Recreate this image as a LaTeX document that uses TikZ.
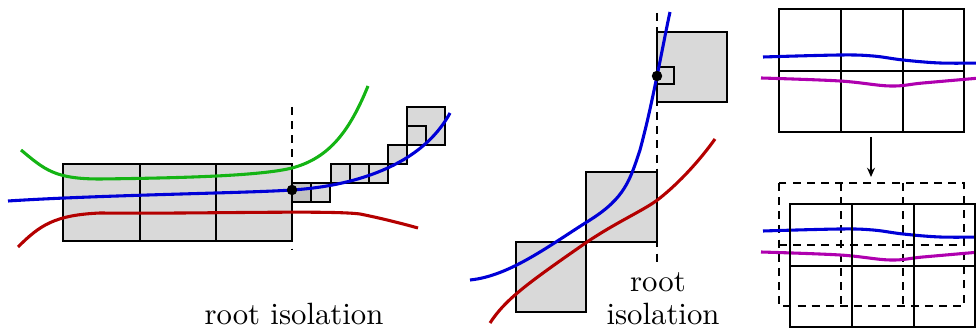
\documentclass[tikz,border=0pt]{standalone}
\usetikzlibrary{arrows.meta}
\definecolor{curvegreen}{RGB}{20,180,20}
\definecolor{curveblue}{RGB}{0,0,215}
\definecolor{curvered}{RGB}{180,0,0}
\definecolor{curvemagenta}{RGB}{175,0,175}
\begin{document}
\begin{tikzpicture}[x=0.325pt,y=-0.325pt,
  box/.style={draw=black,fill=black!15,line width=0.65pt},
  gridline/.style={draw=black,line width=0.65pt},
  guide/.style={line width=0.5pt,dash pattern=on 2.6pt off 2pt},
  curve/.style={line width=1pt}]
\useasboundingbox (0,0) rectangle (976,334);

% --- Panel 1: subdivision along the curve ---
\begin{scope}
\draw[guide] (292,107) -- (292,250);
\filldraw[box] (63,164) rectangle (292,241);
\draw[gridline] (140,164) -- (140,241);
\draw[gridline] (216,164) -- (216,241);

% small boxes following the blue curve
\filldraw[box,fill=black!24] (292,183) rectangle (311,202);
\filldraw[box] (311,183) rectangle (330,202);
\foreach \x in {331,350,369}
  \filldraw[box] (\x,164) rectangle +(19,19);
\filldraw[box] (388,145) rectangle (407,164);
\filldraw[box] (407,107) rectangle (445,145);
\draw[gridline] (407,126) rectangle (426,145);

\draw[curve,curvegreen] (21,150) .. controls (45,170) and (55,179) .. (100,179)
  .. controls (180,178) and (260,176) .. (292,168)
  .. controls (330,158) and (350,130) .. (368,86);
\draw[curve,curveblue] (8,201) .. controls (100,195) and (250,193) .. (292,190)
  .. controls (340,187) and (418,172) .. (450,113);
\draw[curve,curvered] (18,247) .. controls (40,225) and (55,215) .. (100,213)
  .. controls (200,214) and (330,210) .. (360,214)
  .. controls (380,218) and (400,223) .. (418,228);

\fill (292,190) circle (1.7pt);
\node[anchor=base] (lbl1) at (294,325) {root isolation};
\end{scope}

% --- Panel 2: boxes along a steep curve ---
\begin{scope}
\draw[guide] (657,13) -- (657,267);
\filldraw[box] (657,32) rectangle (727,102);
\draw[gridline] (657,67) rectangle (674,84);
\filldraw[box] (586,172) rectangle (657,242);
\filldraw[box] (516,242) rectangle (586,312);

\draw[curve,curveblue] (470,280) .. controls (510,276) and (550,245) .. (590,220)
  .. controls (625,198) and (630,180) .. (640,150)
  .. controls (648,120) and (652,100) .. (657,76)
  .. controls (662,52) and (666,30) .. (670,12);
\draw[curve,curvered] (490,323) .. controls (505,300) and (525,285) .. (587,242)
  .. controls (620,220) and (645,210) .. (660,198)
  .. controls (680,182) and (700,160) .. (715,139);

\fill (657,76) circle (1.7pt);
\node[anchor=base] (lbl2a) at (658,292) {root};
\node[anchor=base] (lbl2b) at (663,325) {isolation};
\end{scope}

% --- Panel 3: shifted grid ---
\begin{scope}
\draw[gridline] (779,9) rectangle (964,132);
\draw[gridline] (841,9) -- (841,132);
\draw[gridline] (903,9) -- (903,132);
\draw[gridline] (779,71) -- (964,71);
\draw[curve,curveblue] plot[smooth,tension=0.6] coordinates
  {(763,57) (840,55) (873,56) (903,60) (940,63) (980,63)};
\draw[curve,curvemagenta] plot[smooth,tension=0.6] coordinates
  {(761,78) (840,81) (890,86) (923,83) (980,78)};

\coordinate (arrtop) at (871,137);
\coordinate (arrbot) at (871,177);
\draw[line width=0.65pt,-{Stealth[length=3pt,width=2.6pt]}] (arrtop) -- (arrbot);
\end{scope}

\begin{scope}[shift={(0,174)}]
\draw[guide] (779,9) rectangle (964,132);
\draw[guide] (841,9) -- (841,132);
\draw[guide] (903,9) -- (903,132);
\draw[guide] (779,71) -- (964,71);
\draw[curve,curveblue] plot[smooth,tension=0.6] coordinates
  {(763,57) (840,55) (873,56) (903,60) (940,63) (980,63)};
\draw[curve,curvemagenta] plot[smooth,tension=0.6] coordinates
  {(761,78) (840,81) (890,86) (923,83) (980,78)};
\end{scope}

\begin{scope}[shift={(11,195)}]
\draw[gridline] (779,9) rectangle (964,132);
\draw[gridline] (841,9) -- (841,132);
\draw[gridline] (903,9) -- (903,132);
\draw[gridline] (779,71) -- (964,71);
\end{scope}

\end{tikzpicture}
\end{document}
